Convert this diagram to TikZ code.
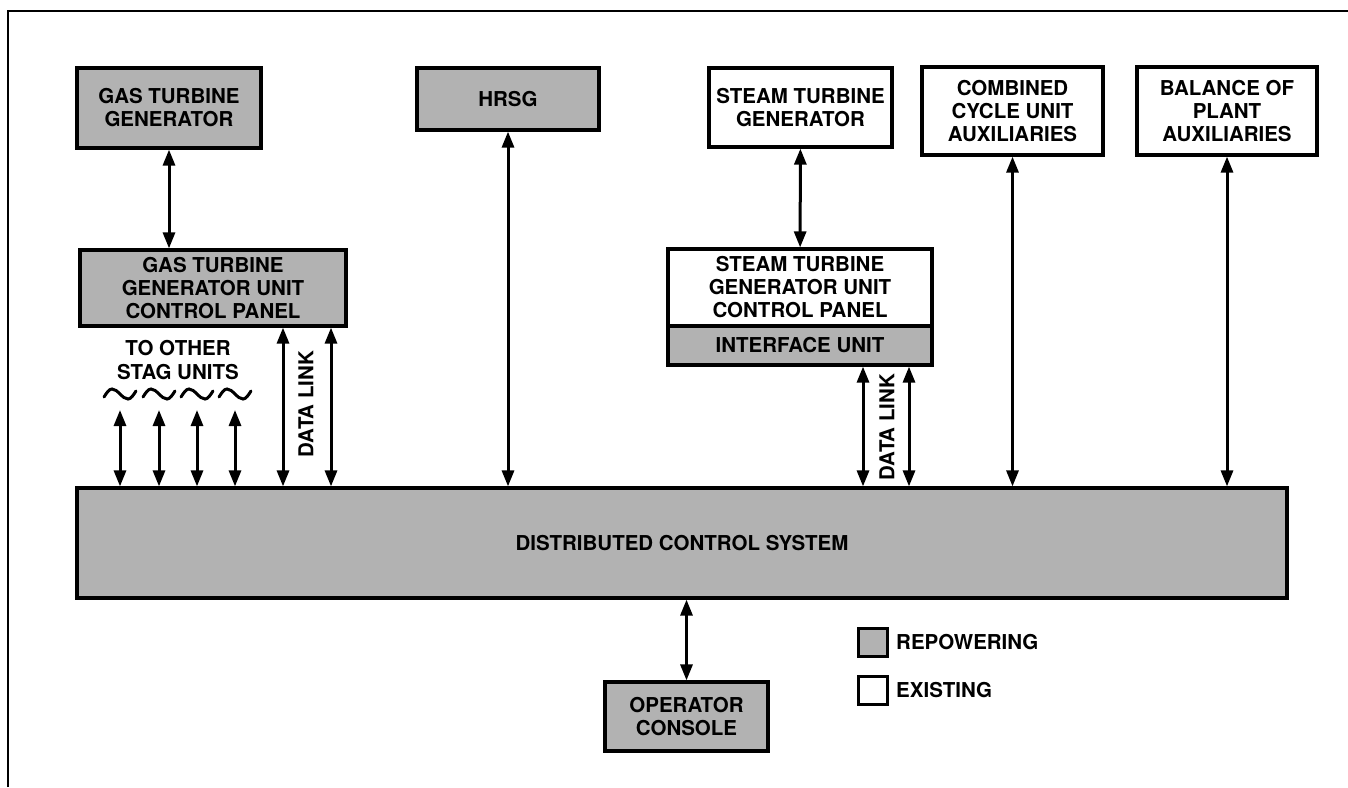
\documentclass[tikz,border=0pt]{standalone}
\usepackage{fontspec}
\setmainfont{TeX Gyre Heros}
\usetikzlibrary{arrows.meta}
\begin{document}
\begin{tikzpicture}[x=1pt,y=-1pt,
  box/.style={draw, line width=3.2pt, align=center, inner sep=0pt, font=\bfseries\fontsize{20.5}{23}\selectfont},
  rep/.style={box, fill=black!30},
  dbl/.style={line width=3pt, {Triangle[length=16pt,width=12pt]}-{Triangle[length=16pt,width=12pt]}},
  lbl/.style={font=\bfseries\fontsize{20.5}{24}\selectfont, align=center, inner sep=0pt},
  tildestyle/.style={line width=3pt, line cap=round}]
\useasboundingbox (0,0) rectangle (1348,787);
% frame
\draw[line width=2.4pt] (8,787) -- (8,11) -- (1348,11);
% boxes
\node[rep, minimum width=184pt, minimum height=80pt] (gtg) at (169,108) {GAS TURBINE\\GENERATOR};
\node[rep, minimum width=266pt, minimum height=76pt] (gtcp) at (213,288) {GAS TURBINE\\GENERATOR UNIT\\CONTROL PANEL};
\node[rep, minimum width=182pt, minimum height=62pt] (hrsg) at (508,99) {HRSG};
\node[box, minimum width=183pt, minimum height=79pt] (stg) at (800.5,107.5) {STEAM TURBINE\\GENERATOR};
\node[box, minimum width=264pt, minimum height=77pt] (stcp) at (800,287.5) {STEAM TURBINE\\GENERATOR UNIT\\CONTROL PANEL};
\node[rep, minimum width=264pt, minimum height=39pt] (iu) at (800,345.5) {INTERFACE UNIT};
\node[box, minimum width=181pt, minimum height=88pt] (ccua) at (1012.5,111) {COMBINED\\CYCLE UNIT\\AUXILIARIES};
\node[box, minimum width=180pt, minimum height=88pt] (bop) at (1227,111) {BALANCE OF\\PLANT\\AUXILIARIES};
\node[rep, minimum width=1210pt, minimum height=110pt] (dcs) at (682,543) {DISTRIBUTED CONTROL SYSTEM};
\node[rep, minimum width=163pt, minimum height=69pt] (oc) at (686.5,716.5) {OPERATOR\\CONSOLE};
% legend
\node[rep, minimum width=29pt, minimum height=28pt, line width=3pt] (lrep) at (872.5,642) {};
\node[lbl, anchor=west] (lreptxt) at (896,642) {REPOWERING};
\node[box, minimum width=29pt, minimum height=28pt, line width=3pt] (lex) at (872.5,690) {};
\node[lbl, anchor=west] (lextxt) at (896,690) {EXISTING};
% labels
\node[lbl] (other) at (178,360) {TO OTHER\\STAG UNITS};
\node[lbl, rotate=90] (dl1txt) at (306,404) {DATA LINK};
\node[lbl, rotate=90] (dl2txt) at (887,427) {DATA LINK};
% tildes
\foreach \cx in {120,159,197,235}
  \draw[tildestyle] (\cx-16,397) sin (\cx-8,389) cos (\cx,394) sin (\cx+8,399) cos (\cx+16,391);
% coordinates for free ends
\coordinate (s1) at (120,410);
\coordinate (s2) at (159,410);
\coordinate (s3) at (197,410);
\coordinate (s4) at (235,410);
\coordinate (d1) at (283,400);
\coordinate (d2) at (331,400);
\coordinate (d3) at (863,400);
\coordinate (d4) at (909,400);
% connectors
\draw[dbl] (gtg) -- (gtcp.north -| gtg.south);
\draw[dbl] (stg) -- (stcp);
\draw[dbl] (hrsg) -- (hrsg.south |- dcs.north);
\draw[dbl] (ccua) -- (ccua.south |- dcs.north);
\draw[dbl] (bop) -- (bop.south |- dcs.north);
\draw[dbl] (dcs.south -| oc.north) -- (oc);
\foreach \s in {s1,s2,s3,s4}
  \draw[dbl] (\s) -- (\s |- dcs.north);
\draw[dbl] (gtcp.south -| d1) -- (dcs.north -| d1);
\draw[dbl] (gtcp.south -| d2) -- (dcs.north -| d2);
\draw[dbl] (iu.south -| d3) -- (dcs.north -| d3);
\draw[dbl] (iu.south -| d4) -- (dcs.north -| d4);
\end{tikzpicture}
\end{document}
